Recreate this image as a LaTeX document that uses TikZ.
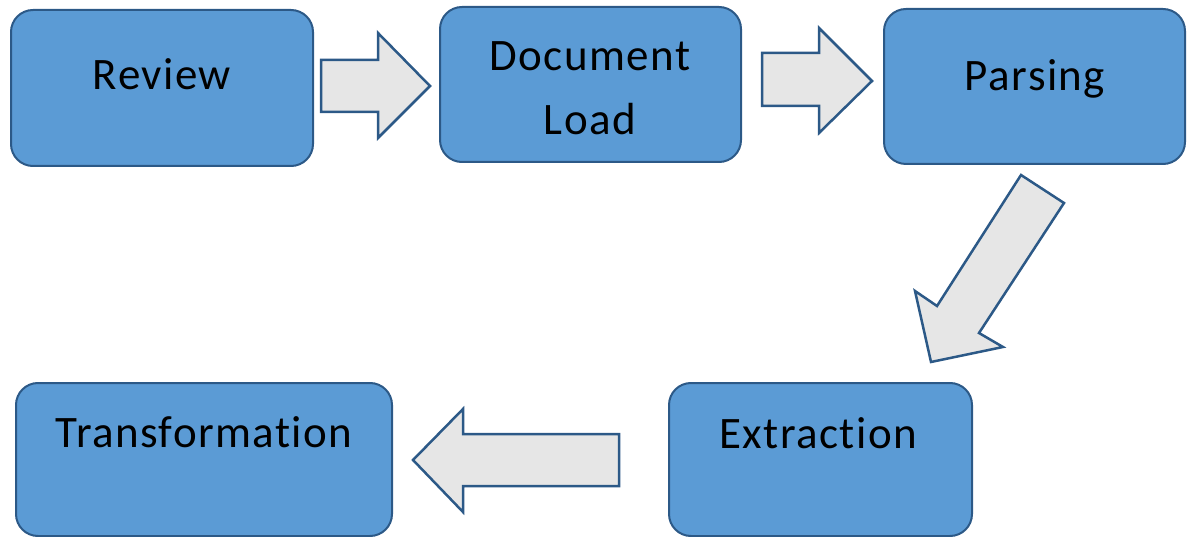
\documentclass[tikz,border=0pt]{standalone}
\usepackage{fontspec}
\setmainfont[Ligatures=NoCommon, LetterSpace=3.2]{Carlito}
\usepackage{tikz}
\usetikzlibrary{positioning}
\definecolor{boxblue}{HTML}{5B9BD5}
\definecolor{edgeblue}{HTML}{2C5987}
\definecolor{arrowgray}{HTML}{E6E6E6}
\tikzstyle{stagebox} = [rectangle, rounded corners=22pt, draw=edgeblue, line width=2pt, fill=boxblue, inner sep=0pt]
\tikzstyle{stagetext} = [anchor=base, inner sep=0pt, font=\fontsize{45}{54}\selectfont, text=black]
\tikzstyle{blockarrow} = [draw=edgeblue, line width=2.5pt, fill=arrowgray, line join=miter]

\begin{document}
\begin{tikzpicture}[x=1pt, y=-1pt]
	\useasboundingbox (0,0) rectangle (1189,537);
	
	\node (review) [stagebox, minimum width=302pt, minimum height=156pt] at (162,88) {};
	\node (load) [stagebox, minimum width=301pt, minimum height=155pt] at (590.5,84.5) {};
	\node (parsing) [stagebox, minimum width=301pt, minimum height=155pt] at (1034.5,86.5) {};
	\node (extraction) [stagebox, minimum width=303pt, minimum height=153pt] at (820.5,459.5) {};
	\node (transformation) [stagebox, minimum width=376pt, minimum height=153pt] at (204,459.5) {};
	
	\node (reviewtxt) [stagetext] at (162,90) {Review};
	\node (loadtxt1) [stagetext] at (590,71) {Document};
	\node (loadtxt2) [stagetext] at (590,135) {Load};
	\node (parsingtxt) [stagetext] at (1035,91) {Parsing};
	\node (extractiontxt) [stagetext] at (818,448) {Extraction};
	\node (transformationtxt) [stagetext] at (204,447) {Transformation};
	
	\draw [blockarrow] (321,60) -- (378,60) -- (378,33) -- (430,86) -- (378,138) -- (378,112) -- (321,112) -- cycle;
	\draw [blockarrow] (762,53) -- (819,53) -- (819,28) -- (872,81) -- (819,133) -- (819,106) -- (762,106) -- cycle;
	\draw [blockarrow] (1021,175) -- (1064,203) -- (979,333) -- (1003,347) -- (931,362) -- (915,291) -- (937,306) -- cycle;
	\draw [blockarrow] (619,434) -- (463,434) -- (463,409) -- (413,460) -- (463,512) -- (463,486) -- (619,486) -- cycle;
\end{tikzpicture}
\end{document}
